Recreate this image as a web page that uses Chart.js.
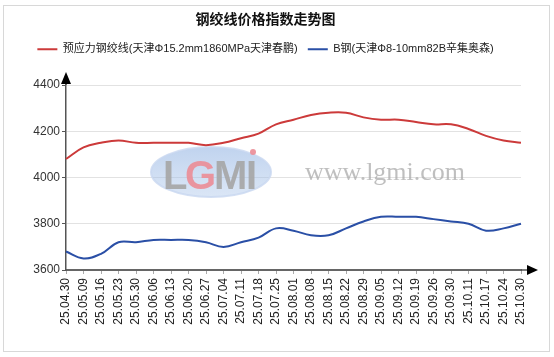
<!DOCTYPE html>
<html>
<head>
<meta charset="utf-8">
<script src="https://cdn.jsdelivr.net/npm/chart.js@4/dist/chart.umd.min.js"></script>
<style>
html,body{margin:0;padding:0;background:#fff;}
#wrap{position:relative;width:554px;height:357px;}
</style>
</head>
<body>
<div id="wrap"><canvas id="c"></canvas></div>
<script>
const chartTitle = '钢绞线价格指数走势图';
const categories = ['25.04.30','25.05.09','25.05.16','25.05.23','25.05.30','25.06.06','25.06.13','25.06.20','25.06.27','25.07.04','25.07.11','25.07.18','25.07.25','25.08.01','25.08.08','25.08.15','25.08.22','25.08.29','25.09.05','25.09.12','25.09.19','25.09.26','25.09.30','25.10.11','25.10.17','25.10.24','25.10.30'];
const seriesNames = ['预应力钢绞线(天津Φ15.2mm1860MPa天津春鹏)', 'B钢(天津Φ8-10mm82B辛集奥森)'];
const strandValues = [4080,4130,4150,4160,4150,4150,4150,4150,4140,4150,4170,4190,4230,4250,4270,4280,4280,4260,4250,4250,4240,4230,4230,4210,4180,4160,4150];
const bSteelValues = [3680,3650,3670,3720,3720,3730,3730,3730,3720,3700,3720,3740,3780,3770,3750,3750,3780,3810,3830,3830,3830,3820,3810,3800,3770,3780,3800];
const yTicks = [3600,3800,4000,4200,4400];

const FONT = '"Liberation Sans", Arial, "Noto Sans CJK SC", sans-serif';

const decor = {
  id: 'decor',
  beforeDraw(chart) {
    const ctx = chart.ctx;
    ctx.save();
    ctx.fillStyle = '#fff';
    ctx.fillRect(0, 0, chart.width, chart.height);
    ctx.strokeStyle = '#d8d8d8';
    ctx.lineWidth = 1;
    ctx.strokeRect(3.5, 5.5, 546, 346);
    ctx.restore();
  },
  beforeDatasetsDraw(chart) {
    const ctx = chart.ctx;
    ctx.save();
    ctx.beginPath();
    ctx.ellipse(211, 172, 60, 25, 0, 0, Math.PI * 2);
    const g = ctx.createLinearGradient(0, 147, 0, 197);
    g.addColorStop(0, 'rgba(140,175,225,0.55)');
    g.addColorStop(1, 'rgba(175,200,235,0.45)');
    ctx.fillStyle = g;
    ctx.fill();
    ctx.lineWidth = 2;
    ctx.strokeStyle = 'rgba(200,215,240,0.8)';
    ctx.stroke();
    ctx.font = 'bold 40px ' + FONT;
    ctx.textBaseline = 'alphabetic';
    ctx.textAlign = 'left';
    ctx.fillStyle = 'rgba(165,165,165,0.9)';
    ctx.fillText('L', 163, 189);
    ctx.fillStyle = 'rgba(235,140,150,0.9)';
    ctx.fillText('G', 185, 189);
    ctx.fillStyle = 'rgba(165,165,165,0.9)';
    ctx.fillText('M', 214, 189);
    ctx.fillText('I', 246, 189);
    ctx.fillStyle = 'rgba(235,140,150,0.9)';
    ctx.beginPath();
    ctx.arc(253, 152, 3, 0, Math.PI * 2);
    ctx.fill();
    ctx.font = '26px "Liberation Serif", "DejaVu Serif", serif';
    ctx.fillStyle = 'rgba(170,170,170,0.75)';
    ctx.fillText('www.lgmi.com', 305, 180);
    ctx.restore();
  },
  afterDraw(chart) {
    const ctx = chart.ctx;
    const a = chart.chartArea;
    ctx.save();
    ctx.strokeStyle = '#555';
    ctx.lineWidth = 1.5;
    ctx.beginPath();
    ctx.moveTo(a.left, a.top);
    ctx.lineTo(a.left, a.top - 4);
    ctx.moveTo(a.right, a.bottom);
    ctx.lineTo(a.right + 7, a.bottom);
    ctx.stroke();
    ctx.fillStyle = '#000';
    ctx.beginPath();
    ctx.moveTo(a.left, a.top - 13);
    ctx.lineTo(a.left - 5, a.top - 1);
    ctx.lineTo(a.left + 5, a.top - 1);
    ctx.closePath();
    ctx.fill();
    ctx.beginPath();
    ctx.moveTo(a.right + 17, a.bottom);
    ctx.lineTo(a.right + 6, a.bottom - 5);
    ctx.lineTo(a.right + 6, a.bottom + 5);
    ctx.closePath();
    ctx.fill();
    ctx.restore();
  }
};

new Chart(document.getElementById('c'), {
  type: 'line',
  data: {
    labels: categories,
    datasets: [
      { label: seriesNames[0], data: strandValues, borderColor: '#cc3a3a', backgroundColor: '#cc3a3a', borderWidth: 2, pointRadius: 0, tension: 0.4, fill: false },
      { label: seriesNames[1], data: bSteelValues, borderColor: '#2a4fa6', backgroundColor: '#2a4fa6', borderWidth: 2, pointRadius: 0, tension: 0.4, fill: false }
    ]
  },
  options: {
    responsive: true,
    maintainAspectRatio: false,
    animation: false,
    layout: { padding: { left: 10, right: 33, top: 0, bottom: 17 } },
    plugins: {
      title: { display: true, text: chartTitle, color: '#111', font: { family: FONT, size: 14, weight: 'bold' }, padding: { top: 12, bottom: 5 } },
      legend: {
        display: true,
        labels: { usePointStyle: true, pointStyle: 'line', pointStyleWidth: 20, color: '#222', font: { family: FONT, size: 11 }, padding: 10 }
      },
      tooltip: { enabled: false }
    },
    scales: {
      x: {
        type: 'category',
        offset: false,
        afterFit: s => { s.height = 70; },
        grid: { display: true, drawOnChartArea: false, drawTicks: true, tickLength: 4, tickColor: '#aaa' },
        border: { display: true, color: '#666', width: 2 },
        ticks: { autoSkip: false, minRotation: 90, maxRotation: 90, padding: 4, color: '#222', font: { family: FONT, size: 12 } }
      },
      x2: {
        type: 'category',
        position: 'top',
        display: true,
        afterFit: s => { s.height = 20.2; },
        grid: { display: false, drawTicks: false },
        border: { display: false },
        ticks: { display: false }
      },
      y: {
        min: 3600,
        max: 4400,
        afterFit: s => { s.width = 56; },
        afterBuildTicks: s => { s.ticks = yTicks.map(v => ({ value: v })); },
        grid: { color: '#e2e2e2', lineWidth: 1, drawTicks: true, tickLength: 4, tickColor: '#555' },
        border: { display: true, color: '#555', width: 1.5 },
        ticks: { padding: 2, color: '#333', font: { family: FONT, size: 12 }, callback: v => String(v) }
      }
    }
  },
  plugins: [decor]
});
</script>
</body>
</html>
